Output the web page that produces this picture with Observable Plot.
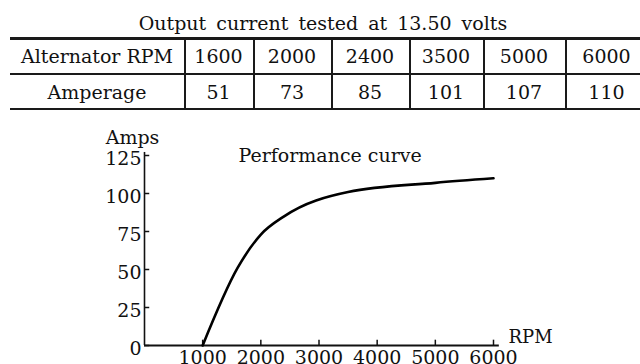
<!DOCTYPE html>
<html>
<head>
<meta charset="utf-8">
<script src="https://cdn.jsdelivr.net/npm/d3@7"></script>
<script src="https://cdn.jsdelivr.net/npm/@observablehq/plot@0.6"></script>
<style>
  html, body { margin: 0; padding: 0; background: #fff; }
  body { width: 640px; height: 364px; overflow: hidden; position: relative;
         font-family: "DejaVu Serif", serif; color: #111; }
  .cell { position: absolute; text-align: center; font-size: 19px; line-height: 19px; white-space: nowrap; }
  .hline { position: absolute; background: #1a1a1a; }
  .vline { position: absolute; background: #1a1a1a; width: 1.5px; }
</style>
</head>
<body>
<script>
// ---- data ----
const tableTitle = "Output current tested at 13.50 volts";
const rowLabels = ["Alternator RPM", "Amperage"];
const tableRpm = [1600, 2000, 2400, 3500, 5000, 6000];
const tableAmps = [51, 73, 85, 101, 107, 110];
// performance curve: cut-in at 1000 rpm, then the tested points
const curveRpm = [1000, 1600, 2000, 2400, 3500, 5000, 6000];
const curveAmps = [0, 51, 73, 85, 101, 107, 110];
const yTicks = [0, 25, 50, 75, 100, 125];
const xTicks = [1000, 2000, 3000, 4000, 5000, 6000];
const chartTitle = "Performance curve";
const yLabel = "Amps";
const xLabel = "RPM";

// ---- layout (table) ----
const colEdges = [10, 184, 253, 331, 409, 483, 565, 648];
const rowEdges = [38, 74, 109];

const body = document.body;
const title = document.createElement("div");
title.className = "cell";
title.style.cssText = "left:0;width:646px;top:14px;word-spacing:4px;";
title.textContent = tableTitle;
body.appendChild(title);

[[37, 2.5], [73, 2], [108, 2]].forEach(([y, h]) => {
  const d = document.createElement("div");
  d.className = "hline";
  d.style.cssText = `left:${colEdges[0]}px;width:${640 - colEdges[0]}px;top:${y}px;height:${h}px;`;
  body.appendChild(d);
});
colEdges.slice(1, -1).forEach(x => {
  const d = document.createElement("div");
  d.className = "vline";
  d.style.cssText = `left:${x}px;top:${rowEdges[0]}px;height:${rowEdges[2] - rowEdges[0]}px;`;
  body.appendChild(d);
});
const rows = [[rowLabels[0], ...tableRpm], [rowLabels[1], ...tableAmps]];
rows.forEach((row, r) => {
  row.forEach((v, c) => {
    const d = document.createElement("div");
    d.className = "cell";
    const x0 = colEdges[c], x1 = colEdges[c + 1];
    const y0 = rowEdges[r], y1 = rowEdges[r + 1];
    d.style.left = x0 + "px";
    d.style.width = (x1 - x0) + "px";
    d.style.top = ((y0 + y1) / 2 - 9) + "px";
    d.textContent = String(v);
    body.appendChild(d);
  });
});

// ---- chart ----
const curve = curveRpm.map((x, i) => ({rpm: x, amps: curveAmps[i]}));

const chart = Plot.plot({
  width: 640,
  height: 270,
  marginTop: 40,
  marginBottom: 40,
  marginLeft: 144,
  marginRight: 147,
  x: {domain: [0, 6000], axis: null},
  y: {domain: [0, 125], axis: null},
  style: {fontFamily: "DejaVu Serif", fontSize: "19px", color: "#111", background: "transparent", overflow: "visible"},
  marks: [
    Plot.ruleX([0], {y1: 0, y2: 127, stroke: "#111", strokeWidth: 1.6}),
    Plot.ruleY([0], {x1: 0, x2: 6100, stroke: "#111", strokeWidth: 2}),
    Plot.ruleY(yTicks, {y: d => d, x1: 0, x2: 90, stroke: "#111", strokeWidth: 1.5}),
    Plot.ruleX(xTicks, {x: d => d, y1: 0, y2: 3.5, stroke: "#111", strokeWidth: 1.5}),
    Plot.text(yTicks, {x: 0, y: d => d, text: d => String(d), textAnchor: "end", dx: -3, dy: 3, fontSize: 19, fill: "#111"}),
    Plot.text(xTicks, {x: d => d, y: 0, text: d => String(d), lineAnchor: "top", dy: 5, fontSize: 19, fill: "#111"}),
    Plot.line(curve, {x: "rpm", y: "amps", curve: "monotone-x", stroke: "#000", strokeWidth: 2.6}),
    Plot.text([yLabel], {frameAnchor: "top-left", text: d => d, textAnchor: "middle", lineAnchor: "middle", dx: -12, dy: -18, fontSize: 19, fill: "#111"}),
    Plot.text([chartTitle], {frameAnchor: "top-left", text: d => d, textAnchor: "start", lineAnchor: "middle", dx: 94, dy: 0, fontSize: 19, fill: "#111"}),
    Plot.text([xLabel], {frameAnchor: "bottom-right", text: d => d, textAnchor: "start", lineAnchor: "middle", dx: 15, dy: -8, fontSize: 18, fill: "#111"})
  ]
});
chart.style.position = "absolute";
chart.style.left = "0px";
chart.style.top = "115px";
body.appendChild(chart);
</script>
</body>
</html>
